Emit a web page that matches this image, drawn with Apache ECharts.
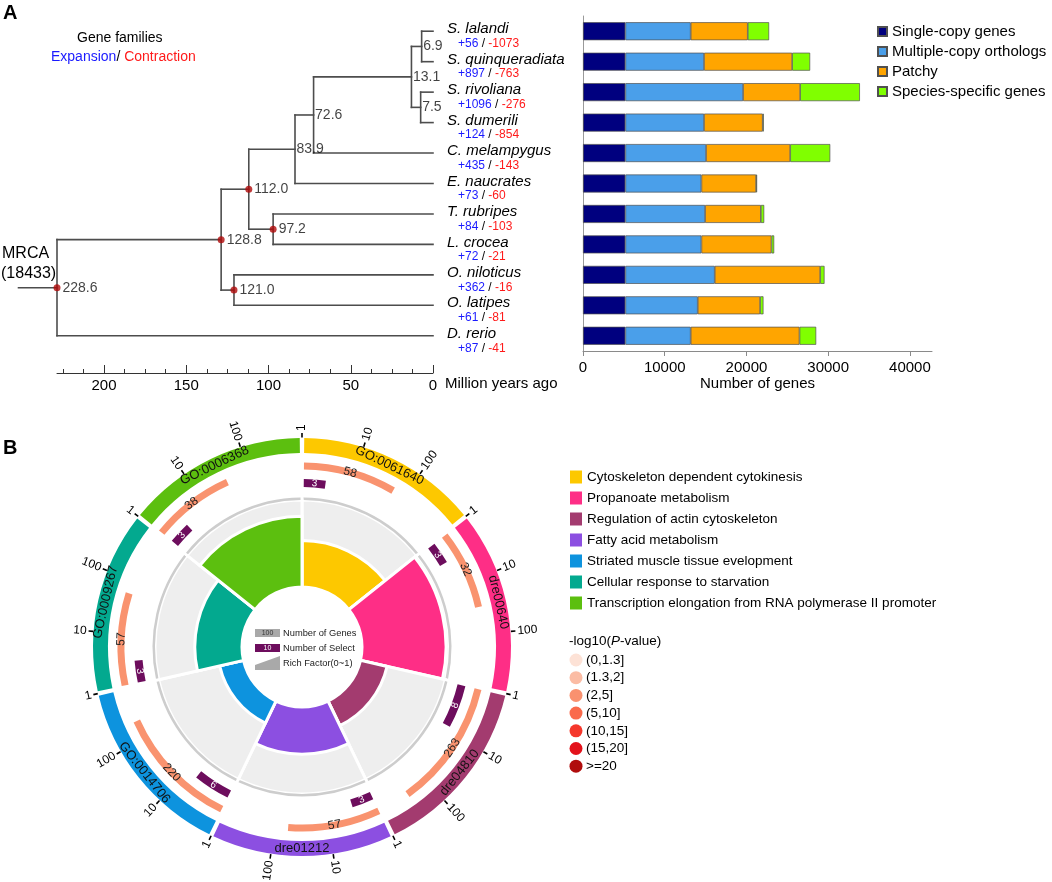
<!DOCTYPE html>
<html><head><meta charset="utf-8">
<script src="https://cdn.jsdelivr.net/npm/echarts@6/dist/echarts.min.js"></script>
<style>html,body{margin:0;padding:0;background:#fff}#c{width:1052px;height:882px}</style>
</head><body><div id="c"></div>
<script>
const FONT = '"Liberation Sans", Arial, Helvetica, sans-serif';

// ---------- Panel A data ----------
const taxa = ['S. lalandi', 'S. quinqueradiata', 'S. rivoliana', 'S. dumerili', 'C. melampygus', 'E. naucrates', 'T. rubripes', 'L. crocea', 'O. niloticus', 'O. latipes', 'D. rerio'];
const expansion = [56, 897, 1096, 124, 435, 73, 84, 72, 362, 61, 87];
const contraction = [1073, 763, 276, 854, 143, 60, 103, 21, 16, 81, 41];
// internal nodes (children: taxon index or 'n'+node index)
const nodeAges = [6.9, 7.5, 13.1, 72.6, 83.9, 97.2, 112.0, 121.0, 128.8, 228.6];
const nodeChildren = [[0, 1], [2, 3], ['n0', 'n1'], ['n2', 4], ['n3', 5], [6, 7], ['n4', 'n5'], [8, 9], ['n6', 'n7'], ['n8', 10]];
const calibratedNodes = [97.2, 112.0, 121.0, 128.8, 228.6];
const rootStemAge = 252;
const mrcaFamilies = 18433;
const timeTicks = [0, 50, 100, 150, 200];
const timeMinorTicks = [0, 12.5, 25, 37.5, 50, 62.5, 75, 87.5, 100, 112.5, 125, 137.5, 150, 162.5, 175, 187.5, 200, 212.5, 225];

const barNames = ['Single-copy genes', 'Multiple-copy orthologs', 'Patchy', 'Species-specific genes'];
const barColors = ['#00007f', '#4a9fea', '#ffa500', '#80ff00'];
const singleCopy = [5180, 5180, 5180, 5180, 5180, 5180, 5180, 5180, 5180, 5180, 5180];
const multipleCopy = [8000, 9630, 14410, 9630, 9880, 9310, 9760, 9310, 10940, 8860, 8000];
const patchy = [6980, 10780, 6980, 7180, 10290, 6690, 6820, 8570, 12900, 7630, 13310];
const speciesSpecific = [2610, 2200, 7310, 120, 4900, 120, 410, 330, 530, 410, 2040];
const geneTicks = [0, 10000, 20000, 30000, 40000];

// ---------- Panel B data ----------
const termIds = ['GO:0061640', 'dre00640', 'dre04810', 'dre01212', 'GO:0014706', 'GO:0009267', 'GO:0006368'];
const termNames = ['Cytoskeleton dependent cytokinesis', 'Propanoate metabolism', 'Regulation of actin cytoskeleton', 'Fatty acid metabolism', 'Striated muscle tissue evelopment', 'Cellular response to starvation', 'Transcription elongation from RNA polymerase II promoter'];
const termColors = ['#fdc800', '#fe2e86', '#a33b6f', '#8c4fe1', '#0d93de', '#03a98f', '#5cbf0f'];
const geneNumbers = [58, 32, 263, 57, 220, 57, 38];
const selectNumbers = [3, 3, 8, 3, 6, 3, 3];
const ringTicks = [1, 10, 100];
const pLegendLabels = ['(0,1.3]', '(1.3,2]', '(2,5]', '(5,10]', '(10,15]', '(15,20]', '>=20'];
const pLegendColors = ['#fde2d6', '#fbbca4', '#f9916f', '#fa6a4b', '#f5372b', '#e3121b', '#b00d0d'];
const geneBarColor = '#f9936f';
const selectBarColor = '#6d0d5d';

// ---------- tree geometry from data ----------
const nodeY = [];
const treeSegs = [];
(function () {
  const yOf = c => typeof c === 'number' ? c : nodeY[+c.slice(1)];
  const ageOf = c => typeof c === 'number' ? 0 : nodeAges[+c.slice(1)];
  nodeAges.forEach((age, n) => {
    const [a, b] = nodeChildren[n];
    const ya = yOf(a), yb = yOf(b);
    nodeY[n] = (ya + yb) / 2;
    treeSegs.push([age, ya, age, yb]);
    treeSegs.push([age, ya, ageOf(a), ya]);
    treeSegs.push([age, yb, ageOf(b), yb]);
  });
  const r = nodeAges.length - 1;
  treeSegs.push([rootStemAge, nodeY[r], nodeAges[r], nodeY[r]]);
})();

// ---------- polar helpers ----------
const TAU = Math.PI * 2;
const LOG_MAX = 3;
const PAD = 0.012;
function helpers(params, api) {
  const cs = params.coordSys, cx = cs.cx, cy = cs.cy;
  const phi = a => { const p = api.coord([cs.r * 0.5 || 1, a]); return Math.atan2(p[1] - cy, p[0] - cx); };
  const theta = a => { let t = phi(a) + Math.PI / 2; t = ((t % TAU) + TAU) % TAU; if (t > TAU - 1e-6) t = 0; return t; };
  const ring = (r0, r1, a0, a1, style) => {
    const s0 = phi(a0); let e0 = phi(a1); while (e0 <= s0) e0 += TAU;
    return { type: 'sector', shape: { cx, cy, r0, r: r1, startAngle: s0, endAngle: e0, clockwise: true }, style };
  };
  const tanRot = t => (t > Math.PI / 2 && t < 1.5 * Math.PI) ? Math.PI - t : -t;
  return { cs, cx, cy, phi, theta, ring, tanRot };
}

function renderTerm(params, api) {
  const k = api.value(0), g = api.value(1), s = api.value(2);
  const H = helpers(params, api);
  const pt = (r, a) => api.coord([r, a]);
  const logPos = v => k + Math.log10(v) / LOG_MAX;
  const ch = [];
  ch.push(H.ring(194, 209, k + PAD, k + 1 - PAD, { fill: termColors[k] }));
  const am = k + 0.5, pm = pt(201.5, am);
  ch.push({ type: 'text', x: pm[0], y: pm[1], rotation: H.tanRot(H.theta(am)),
    style: { text: termIds[k], fill: '#111', fontSize: 13, fontFamily: FONT, align: 'center', verticalAlign: 'middle' } });
  ringTicks.forEach(t => {
    const a = logPos(t), p1 = pt(209.5, a), p2 = pt(214, a), pl = pt(216, a), th = H.theta(a);
    ch.push({ type: 'line', shape: { x1: p1[0], y1: p1[1], x2: p2[0], y2: p2[1] }, style: { stroke: '#000', lineWidth: 1.6 } });
    const out = th < Math.PI;
    ch.push({ type: 'text', x: pl[0], y: pl[1], rotation: out ? Math.PI / 2 - th : 1.5 * Math.PI - th,
      style: { text: String(t), fill: '#000', fontSize: 12, fontFamily: FONT, align: out ? 'left' : 'right', verticalAlign: 'middle' } });
  });
  const gEnd = logPos(g), gMid = (k + PAD + gEnd) / 2, gp = pt(181, gMid);
  ch.push(H.ring(177.5, 184.5, k + PAD, gEnd, { fill: geneBarColor }));
  ch.push({ type: 'text', x: gp[0], y: gp[1], rotation: H.tanRot(H.theta(gMid)),
    style: { text: String(g), fill: '#222', fontSize: 12, fontFamily: FONT, align: 'center', verticalAlign: 'middle' } });
  const sEnd = logPos(s), sMid = (k + PAD + sEnd) / 2, sp = pt(164, sMid);
  ch.push(H.ring(160, 168, k + PAD, sEnd, { fill: selectBarColor }));
  ch.push({ type: 'text', x: sp[0], y: sp[1], rotation: H.tanRot(H.theta(sMid)),
    style: { text: String(s), fill: '#fff', fontSize: 10, fontFamily: FONT, align: 'center', verticalAlign: 'middle' } });
  return { type: 'group', children: ch };
}

function renderRich(params, api) {
  const k = api.value(0), g = api.value(1), s = api.value(2);
  const H = helpers(params, api);
  const r0 = H.cs.r0, r1 = H.cs.r;
  const p = api.coord([s / g, k + 0.5]);
  const rr = Math.hypot(p[0] - H.cx, p[1] - H.cy);
  return { type: 'group', children: [
    H.ring(r0, r1, k, k + 1, { fill: '#eeeeee', stroke: '#fff', lineWidth: 3 }),
    H.ring(r1, r1 + 2.5, k + 0.011, k + 1 - 0.011, { fill: '#cdcdcd' }),
    H.ring(r0, rr, k, k + 1, { fill: termColors[k], stroke: '#fff', lineWidth: 3 })
  ] };
}

function renderTree(params, api) {
  const p1 = api.coord([api.value(0), api.value(1)]), p2 = api.coord([api.value(2), api.value(3)]);
  return { type: 'line', shape: { x1: p1[0], y1: p1[1], x2: p2[0], y2: p2[1] },
    style: { stroke: '#4d4d4d', lineWidth: 1.6, lineCap: 'square' } };
}

function renderTaxon(params, api) {
  const i = params.dataIndex;
  const p = api.coord([api.value(0), api.value(1)]);
  return { type: 'group', children: [
    { type: 'text', x: p[0] + 14, y: p[1] - 2,
      style: { text: taxa[i], fill: '#000', fontSize: 15, fontStyle: 'italic', fontFamily: FONT, align: 'left', verticalAlign: 'middle' } },
    { type: 'text', x: p[0] + 25, y: p[1] + 12.5,
      style: { text: '{e|+' + api.value(2) + '}{s| / }{c|-' + api.value(3) + '}', fontSize: 12, fontFamily: FONT, align: 'left', verticalAlign: 'middle',
        rich: { e: { fill: '#1a1aff', fontSize: 12, fontFamily: FONT }, s: { fill: '#000', fontSize: 12, fontFamily: FONT }, c: { fill: '#ff1a1a', fontSize: 12, fontFamily: FONT } } } }
  ] };
}

const chart = echarts.init(document.getElementById('c'), null, { renderer: 'canvas' });

const termData = termIds.map((id, k) => [k, geneNumbers[k], selectNumbers[k]]);

const centreLegend = [
  { type: 'rect', shape: { x: 255, y: 629, width: 25, height: 8 }, style: { fill: '#a9a9a9' } },
  { type: 'text', x: 267.5, y: 633, style: { text: '100', fontSize: 7, fontFamily: FONT, fill: '#333', align: 'center', verticalAlign: 'middle' } },
  { type: 'rect', shape: { x: 255, y: 644, width: 25, height: 8 }, style: { fill: selectBarColor } },
  { type: 'text', x: 267.5, y: 648, style: { text: '10', fontSize: 7, fontFamily: FONT, fill: '#fff', align: 'center', verticalAlign: 'middle' } },
  { type: 'polygon', shape: { points: [[255, 665], [280, 656], [280, 670], [255, 670]] }, style: { fill: '#a9a9a9' } },
  { type: 'text', x: 283, y: 633, style: { text: 'Number of Genes', fontSize: 9.3, fontFamily: FONT, fill: '#222', verticalAlign: 'middle' } },
  { type: 'text', x: 283, y: 648, style: { text: 'Number of Select', fontSize: 9.3, fontFamily: FONT, fill: '#222', verticalAlign: 'middle' } },
  { type: 'text', x: 283, y: 663, style: { text: 'Rich Factor(0~1)', fontSize: 9.3, fontFamily: FONT, fill: '#222', verticalAlign: 'middle' } }
].map(e => Object.assign(e, { z: 100 }));

const option = {
  animation: false,
  backgroundColor: '#fff',
  color: barColors.concat(termColors),
  textStyle: { fontFamily: FONT },
  grid: [
    { left: 57, top: 16, width: 376, height: 335 },
    { left: 583, top: 16, width: 349, height: 335 },
    { left: 57, top: 16, width: 376, height: 335 }
  ],
  xAxis: [
    { gridIndex: 0, type: 'value', min: 0, max: 228.6, inverse: true, position: 'bottom', offset: 22,
      axisLine: { show: false, onZero: false },
      axisTick: { show: true, inside: true, length: 8, customValues: timeTicks, lineStyle: { color: '#333' } },
      axisLabel: { show: true, customValues: timeTicks, fontSize: 15, color: '#000', margin: 5 }, splitLine: { show: false } },
    { gridIndex: 1, type: 'value', min: 0, max: 42700,
      axisLine: { show: true, onZero: false, lineStyle: { color: '#8a8a8a' } },
      axisTick: { show: true, length: 5, customValues: geneTicks, lineStyle: { color: '#8a8a8a' } },
      axisLabel: { show: true, customValues: geneTicks, formatter: v => String(v), fontSize: 15, color: '#000', margin: 9 },
      splitLine: { show: false },
      name: 'Number of genes', nameLocation: 'middle', nameGap: 25, nameTextStyle: { fontSize: 15, color: '#000' } },
    { gridIndex: 2, type: 'value', min: 0, max: 228.6, inverse: true, position: 'bottom', offset: 22,
      axisLine: { show: true, onZero: false, lineStyle: { color: '#333', width: 1 } },
      axisTick: { show: true, inside: true, length: 4, customValues: timeMinorTicks, lineStyle: { color: '#333' } },
      axisLabel: { show: false }, splitLine: { show: false } }
  ],
  yAxis: [
    { gridIndex: 0, type: 'value', min: -0.5, max: 10.5, inverse: true, show: false, axisLine: { onZero: false } },
    { gridIndex: 1, type: 'category', data: taxa, inverse: true,
      axisLine: { show: true, onZero: false, lineStyle: { color: '#9a9a9a' } }, axisTick: { show: false }, axisLabel: { show: false } },
    { gridIndex: 2, type: 'value', min: -0.5, max: 10.5, inverse: true, show: false, axisLine: { onZero: false } }
  ],
  polar: [
    { center: [302, 647], radius: [0, 210] },
    { center: [302, 647], radius: [60, 147] }
  ],
  angleAxis: [
    { polarIndex: 0, type: 'value', min: 0, max: 7, startAngle: 90, clockwise: true, show: false },
    { polarIndex: 1, type: 'value', min: 0, max: 7, startAngle: 90, clockwise: true, show: false }
  ],
  radiusAxis: [
    { polarIndex: 0, type: 'value', min: 0, max: 210, show: false },
    { polarIndex: 1, type: 'value', min: 0, max: 0.097, show: false }
  ],
  legend: [
    { data: barNames, orient: 'vertical', left: 877, top: 24, padding: 0, itemWidth: 9, itemHeight: 9, itemGap: 5, itemTextGap: 4,
      icon: 'rect', textStyle: { fontSize: 15, color: '#000', fontFamily: FONT } },
    { data: termNames, orient: 'vertical', left: 570, top: 470, padding: 0, itemWidth: 12, itemHeight: 13, itemGap: 7, itemTextGap: 5,
      icon: 'rect', textStyle: { fontSize: 13.5, color: '#000', fontFamily: FONT } }
  ],
  series: [
    ...[singleCopy, multipleCopy, patchy, speciesSpecific].map((d, j) => ({
      type: 'bar', name: barNames[j], xAxisIndex: 1, yAxisIndex: 1, stack: 'genes', barWidth: 18, data: d,
      itemStyle: { color: barColors[j], borderColor: '#505050', borderWidth: 0.7 }
    })),
    ...termIds.map((id, k) => ({
      type: 'custom', name: termNames[k], coordinateSystem: 'polar', polarIndex: 0, clip: false,
      itemStyle: { color: termColors[k] }, data: [termData[k]], renderItem: renderTerm
    })),
    { type: 'custom', name: 'Rich Factor', coordinateSystem: 'polar', polarIndex: 1, clip: false,
      data: termData, renderItem: renderRich },
    { type: 'custom', name: 'tree', xAxisIndex: 0, yAxisIndex: 0, clip: false, data: treeSegs, renderItem: renderTree },
    { type: 'scatter', name: 'nodes', xAxisIndex: 0, yAxisIndex: 0, clip: false,
      data: nodeAges.map((age, n) => {
        const cal = calibratedNodes.includes(age);
        return { value: [age, nodeY[n]], symbolSize: cal ? 7 : 1,
          itemStyle: { color: cal ? '#b00a0a' : 'rgba(0,0,0,0)' },
          label: { show: true, position: 'right', distance: cal ? 2 : 1, formatter: age.toFixed(1), fontSize: 14, color: '#111', fontFamily: FONT } };
      }) },
    { type: 'custom', name: 'taxa', xAxisIndex: 0, yAxisIndex: 0, clip: false,
      data: taxa.map((t, i) => [0, i, expansion[i], contraction[i]]), renderItem: renderTaxon }
  ],
  graphic: { elements: [
    { type: 'text', x: 3, y: 13, style: { text: 'A', fontSize: 20, fontWeight: 'bold', fontFamily: FONT, fill: '#000', verticalAlign: 'middle' } },
    { type: 'text', x: 3, y: 448, style: { text: 'B', fontSize: 20, fontWeight: 'bold', fontFamily: FONT, fill: '#000', verticalAlign: 'middle' } },
    { type: 'text', x: 77, y: 38, style: { text: 'Gene families', fontSize: 14, fontFamily: FONT, fill: '#000', verticalAlign: 'middle' } },
    { type: 'text', x: 51, y: 57, style: { text: '{b|Expansion}{k|/ }{r|Contraction}', fontSize: 14, fontFamily: FONT, verticalAlign: 'middle',
      rich: { b: { fill: '#1a1aff', fontSize: 14, fontFamily: FONT }, k: { fill: '#000', fontSize: 14, fontFamily: FONT }, r: { fill: '#ff1a1a', fontSize: 14, fontFamily: FONT } } } },
    { type: 'text', x: 2, y: 254, style: { text: 'MRCA', fontSize: 16, fontFamily: FONT, fill: '#000', verticalAlign: 'middle' } },
    { type: 'text', x: 1, y: 274, style: { text: '(' + mrcaFamilies + ')', fontSize: 16, fontFamily: FONT, fill: '#000', verticalAlign: 'middle' } },
    { type: 'text', x: 445, y: 384, style: { text: 'Million years ago', fontSize: 15, fontFamily: FONT, fill: '#000', verticalAlign: 'middle' } },
    ...centreLegend,
    { type: 'text', x: 569, y: 641, style: { text: '{n|-log10(}{i|P}{n|-value)}', fontSize: 13.5, fontFamily: FONT, verticalAlign: 'middle',
      rich: { n: { fill: '#000', fontSize: 13.5, fontFamily: FONT }, i: { fill: '#000', fontSize: 13.5, fontStyle: 'italic', fontFamily: FONT } } } },
    ...pLegendLabels.map((t, i) => ({ type: 'circle', shape: { cx: 576, cy: 660 + i * 17.7, r: 6.5 }, style: { fill: pLegendColors[i] } })),
    ...pLegendLabels.map((t, i) => ({ type: 'text', x: 586, y: 660 + i * 17.7, style: { text: t, fontSize: 13.5, fontFamily: FONT, fill: '#000', verticalAlign: 'middle' } }))
  ] }
};
chart.setOption(option);
</script>
</body></html>
